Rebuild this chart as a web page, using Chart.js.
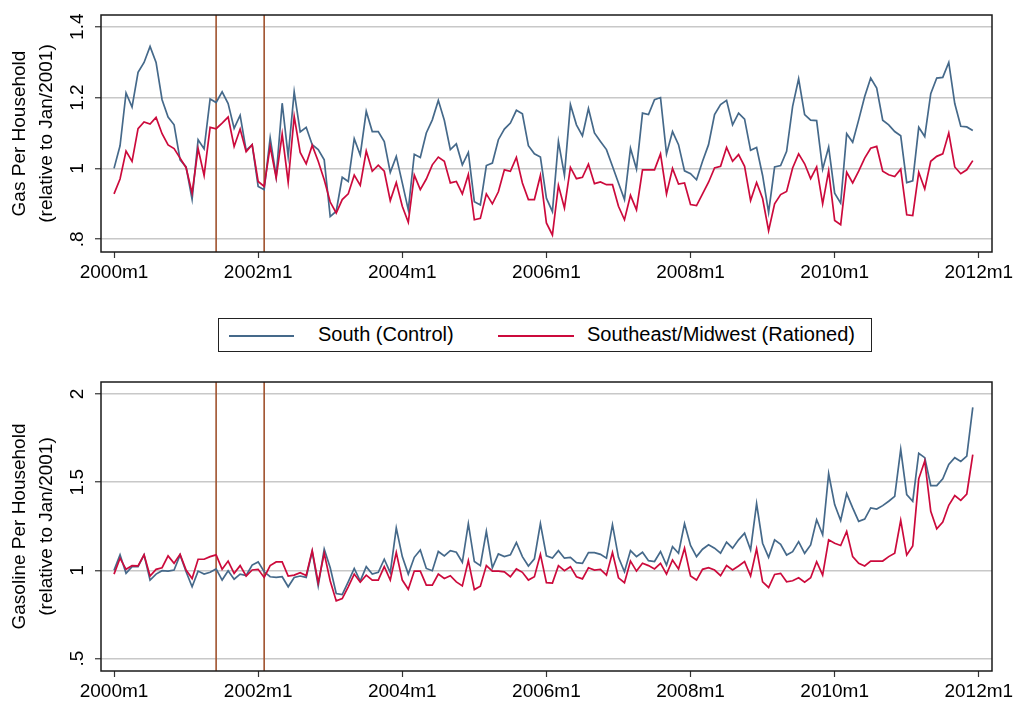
<!DOCTYPE html>
<html>
<head>
<meta charset="utf-8">
<script src="https://cdn.jsdelivr.net/npm/chart.js@4.4.0/dist/chart.umd.min.js"></script>
<style>
  body { margin:0; background:#fff; width:1014px; height:702px; position:relative; overflow:hidden;
         font-family:'Liberation Sans', Arial, sans-serif; }
  canvas { position:absolute; left:0; }
  #gasChart { top:0; }
  #gasolineChart { top:360px; }
  #legend { position:absolute; left:218px; top:318px; width:654px; height:34px; box-sizing:border-box;
            border:1px solid #222; font-size:20px; color:#000; }
  #legend .swatch { position:absolute; top:16px; height:2px; }
  #legend .lbl { position:absolute; top:4px; white-space:nowrap; }
</style>
</head>
<body>
<canvas id="gasChart" width="1014" height="300"></canvas>
<div id="legend">
  <span class="swatch" style="left:10px;width:65px;background:#45698a"></span>
  <span class="lbl" style="left:99px">South (Control)</span>
  <span class="swatch" style="left:279px;width:76px;background:#cc0a3c"></span>
  <span class="lbl" style="left:368px">Southeast/Midwest (Rationed)</span>
</div>
<canvas id="gasolineChart" width="1014" height="342"></canvas>
<script>
  // monthly series, 2000m1 .. 2011m12 (index 0 = Jan 2000)
  const gasSouth = [
    1.000,1.064,1.213,1.173,1.271,1.299,1.344,1.299,1.194,1.145,1.123,1.024,
    1.004,0.913,1.081,1.055,1.196,1.186,1.216,1.183,1.113,1.150,1.051,1.067,
    0.949,0.940,1.086,0.977,1.184,1.034,1.216,1.103,1.116,1.067,1.053,1.024,
    0.864,0.879,0.975,0.963,1.084,1.038,1.161,1.104,1.104,1.076,0.989,1.034,
    0.959,0.883,1.040,1.031,1.100,1.137,1.192,1.136,1.053,1.069,1.010,1.045,
    0.906,0.897,1.008,1.015,1.081,1.111,1.128,1.164,1.154,1.064,1.041,1.032,
    0.916,0.878,1.076,0.981,1.180,1.123,1.092,1.169,1.100,1.076,1.053,1.006,
    0.959,0.912,1.057,0.998,1.156,1.152,1.194,1.200,1.041,1.104,1.067,0.993,
    0.985,0.968,1.020,1.067,1.152,1.180,1.192,1.123,1.156,1.139,1.051,1.059,
    0.980,0.876,1.004,1.008,1.048,1.175,1.253,1.152,1.136,1.135,0.998,1.060,
    0.930,0.902,1.098,1.074,1.137,1.203,1.255,1.227,1.136,1.123,1.104,1.092,
    0.960,0.965,1.116,1.090,1.211,1.255,1.257,1.299,1.183,1.119,1.117,1.107
  ];
  const gasSoutheast = [
    0.928,0.970,1.049,1.020,1.112,1.131,1.125,1.144,1.098,1.066,1.056,1.029,
    1.002,0.930,1.056,0.980,1.116,1.112,1.128,1.145,1.062,1.111,1.047,1.067,
    0.963,0.949,1.062,0.973,1.097,0.961,1.147,1.045,1.013,1.065,1.020,0.968,
    0.905,0.874,0.912,0.928,0.981,0.952,1.049,0.992,1.009,0.992,0.909,0.960,
    0.893,0.848,0.981,0.940,0.970,1.010,1.032,1.020,0.959,0.963,0.928,0.983,
    0.855,0.859,0.928,0.900,0.934,0.996,0.992,1.031,0.959,0.912,0.912,0.980,
    0.846,0.812,0.952,0.888,1.003,0.971,0.975,1.012,0.957,0.962,0.954,0.954,
    0.893,0.855,0.924,0.883,0.996,0.996,0.996,1.041,0.928,1.000,0.956,0.959,
    0.898,0.895,0.928,0.961,1.001,1.006,1.059,1.020,1.039,1.006,0.909,0.960,
    0.915,0.824,0.900,0.926,0.935,1.001,1.041,1.013,0.971,1.004,0.900,0.993,
    0.853,0.841,0.989,0.959,0.992,1.029,1.057,1.062,0.992,0.982,0.977,0.998,
    0.869,0.867,0.989,0.942,1.020,1.034,1.041,1.100,1.004,0.985,0.996,1.022
  ];
  const gasolineSouth = [
    1.000,1.088,0.983,1.021,1.021,1.088,0.945,0.979,0.998,0.996,1.002,1.088,
    0.992,0.907,0.996,0.979,0.989,1.008,0.945,0.998,0.950,0.979,0.971,1.030,
    1.048,0.992,0.964,0.960,0.964,0.907,0.960,0.968,0.960,1.107,0.912,1.120,
    1.015,0.869,0.863,0.935,1.011,0.939,1.021,0.979,0.989,1.063,0.987,1.240,
    1.078,0.979,1.074,1.116,1.011,0.998,1.107,1.082,1.112,1.103,1.046,1.265,
    1.050,1.027,1.221,1.015,1.093,1.078,1.088,1.158,1.078,1.025,1.065,1.265,
    1.082,1.070,1.112,1.069,1.074,1.044,1.040,1.101,1.101,1.091,1.069,1.259,
    1.074,0.992,1.112,1.078,1.103,1.055,1.050,1.107,1.030,1.135,1.097,1.265,
    1.141,1.078,1.120,1.145,1.126,1.097,1.160,1.126,1.173,1.211,1.116,1.379,
    1.154,1.074,1.173,1.148,1.087,1.106,1.163,1.097,1.144,1.287,1.202,1.548,
    1.373,1.283,1.435,1.354,1.278,1.291,1.354,1.348,1.367,1.392,1.420,1.686,
    1.430,1.392,1.664,1.639,1.481,1.481,1.519,1.601,1.639,1.618,1.648,1.924
  ];
  const gasolineSoutheast = [
    0.979,1.069,1.006,1.027,1.025,1.088,0.968,1.006,1.015,1.082,1.040,1.091,
    1.002,0.954,1.063,1.063,1.078,1.088,1.006,1.053,0.983,1.027,0.968,1.002,
    1.006,0.960,1.027,1.048,1.048,0.968,0.973,0.987,0.971,1.112,0.930,1.097,
    0.940,0.827,0.840,0.907,0.979,0.933,0.973,0.945,0.945,1.021,0.945,1.101,
    0.945,0.893,0.996,0.996,0.916,0.916,0.979,0.954,0.970,0.935,0.912,1.055,
    0.891,0.910,1.027,0.996,0.996,0.992,0.964,1.008,0.989,0.945,0.964,1.091,
    0.930,0.928,1.027,0.998,1.021,0.964,0.952,1.015,1.002,1.006,0.973,1.101,
    0.958,0.930,1.053,0.996,1.040,1.027,1.008,1.040,0.979,1.059,1.008,1.126,
    0.968,0.945,1.006,1.015,1.002,0.970,1.027,1.002,1.025,1.050,0.968,1.122,
    0.935,0.903,0.977,0.983,0.935,0.941,0.958,0.933,0.958,1.049,0.973,1.173,
    1.154,1.141,1.221,1.078,1.040,1.025,1.053,1.053,1.053,1.078,1.097,1.283,
    1.087,1.139,1.519,1.620,1.335,1.236,1.274,1.369,1.424,1.397,1.433,1.656
  ];
  const xTickMonths = [0, 24, 48, 72, 96, 120, 144];
  const rationingMonths = [17, 25];   // 2001m6 and 2002m2
  const gasTicks = [0.8, 1, 1.2, 1.4];
  const gasolineTicks = [0.5, 1, 1.5, 2];

  const FONT = "'Liberation Sans', Arial, sans-serif";
  const monthLabel = m => (2000 + m / 12) + 'm1';
  const stataNum = v => String(v).replace(/^0\./, '.');
  const toPoints = arr => arr.map((v, i) => ({ x: i, y: v }));

  // frame, xlines, rotated labels (stata look)
  const stataPlugin = {
    id: 'stata',
    beforeDatasetsDraw(chart) {
      const { ctx, chartArea: a, scales: { x } } = chart;
      ctx.save();
      ctx.strokeStyle = '#a0522d';
      ctx.lineWidth = 1.6;
      rationingMonths.forEach(m => {
        const px = x.getPixelForValue(m);
        ctx.beginPath(); ctx.moveTo(px, a.top); ctx.lineTo(px, a.bottom); ctx.stroke();
      });
      ctx.restore();
    },
    afterDraw(chart, args, opts) {
      const { ctx, chartArea: a, scales: { x, y } } = chart;
      ctx.save();
      ctx.strokeStyle = '#1a1a1a';
      ctx.lineWidth = 1.5;
      ctx.strokeRect(a.left, a.top, a.right - a.left, a.bottom - a.top);

      ctx.fillStyle = '#000';
      ctx.font = '19px ' + FONT;
      ctx.textAlign = 'center';
      ctx.textBaseline = 'middle';
      xTickMonths.forEach(m => ctx.fillText(monthLabel(m), x.getPixelForValue(m), a.bottom + 21));

      opts.ticks.forEach(v => {
        ctx.save();
        ctx.translate(78, y.getPixelForValue(v));
        ctx.rotate(-Math.PI / 2);
        ctx.fillText(stataNum(v), 0, 0);
        ctx.restore();
      });

      const mid = (a.top + a.bottom) / 2;
      [[20, opts.title[0]], [47, opts.title[1]]].forEach(([px, txt]) => {
        ctx.save();
        ctx.translate(px, mid);
        ctx.rotate(-Math.PI / 2);
        ctx.fillText(txt, 0, 0);
        ctx.restore();
      });
      ctx.restore();
    }
  };

  function makeChart(id, south, southeast, yMin, yMax, yTicks, title, padTop, xHeight) {
    return new Chart(document.getElementById(id).getContext('2d'), {
      type: 'line',
      data: {
        datasets: [
          { label: 'South (Control)', data: toPoints(south), borderColor: '#45698a', borderWidth: 1.7, pointRadius: 0, tension: 0, order: 2 },
          { label: 'Southeast/Midwest (Rationed)', data: toPoints(southeast), borderColor: '#cc0a3c', borderWidth: 1.7, pointRadius: 0, tension: 0, order: 1 }
        ]
      },
      options: {
        responsive: false, animation: false, devicePixelRatio: 1,
        layout: { padding: { left: 0, right: 22, top: padTop, bottom: 0 } },
        plugins: { legend: { display: false }, tooltip: { enabled: false }, stata: { ticks: yTicks, title } },
        scales: {
          x: {
            type: 'linear', min: -2.17, max: 146.2,
            afterBuildTicks: s => { s.ticks = xTickMonths.map(v => ({ value: v })); },
            afterFit: s => { s.height = xHeight; },
            grid: { drawOnChartArea: false, tickLength: 6, tickColor: '#333', tickWidth: 1.2 },
            border: { display: false },
            ticks: { display: false }
          },
          y: {
            type: 'linear', min: yMin, max: yMax,
            afterBuildTicks: s => { s.ticks = yTicks.map(v => ({ value: v })); },
            afterFit: s => { s.width = 101; },
            grid: { color: '#c8c8c8', lineWidth: 1.5, tickLength: 6, tickColor: '#333', tickWidth: 1.2 },
            border: { display: false },
            ticks: { display: false }
          }
        }
      },
      plugins: [stataPlugin]
    });
  }

  makeChart('gasChart', gasSouth, gasSoutheast, 0.764, 1.433, gasTicks,
            ['Gas Per Household', '(relative to Jan/2001)'], 15, 48);
  makeChart('gasolineChart', gasolineSouth, gasolineSoutheast, 0.4295, 2.068, gasolineTicks,
            ['Gasoline Per Household', '(relative to Jan/2001)'], 22, 31);
</script>
</body>
</html>
